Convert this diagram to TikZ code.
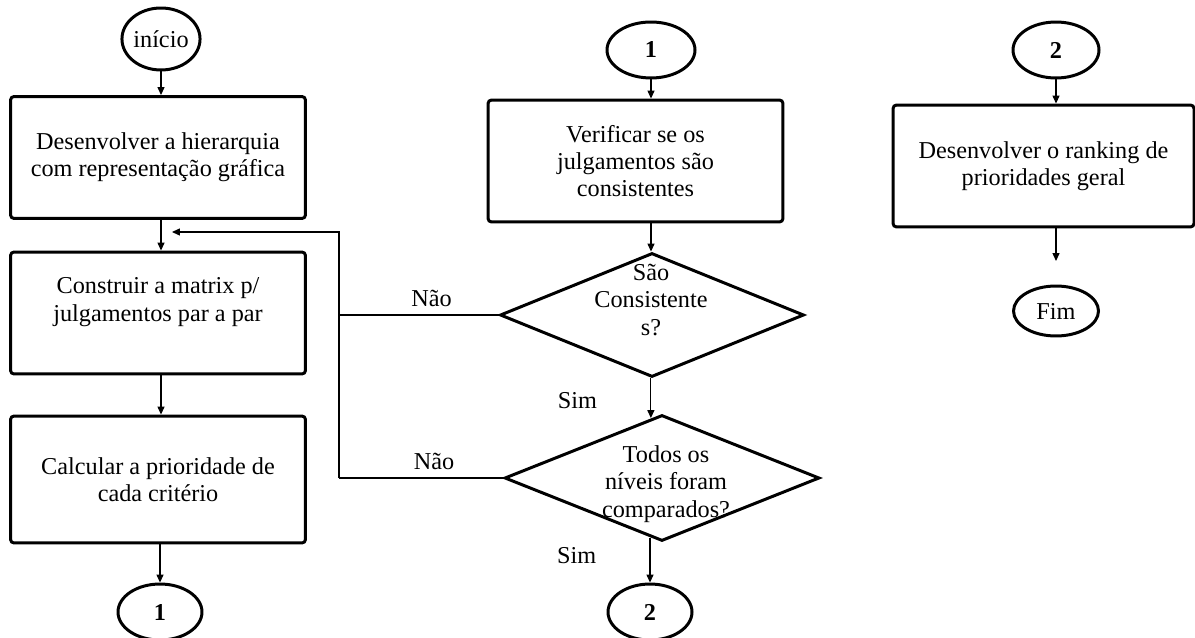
\documentclass[tikz,border=0pt]{standalone}
\usepackage{fontspec}
\setmainfont{Liberation Serif}
\usetikzlibrary{shapes.geometric,arrows.meta,calc}

\tikzset{
  passo/.style={draw,line width=1.7pt,rounded corners=2pt,minimum width=5.9cm,minimum height=2.44cm,align=center,inner sep=0pt},
  terminal/.style={draw,ellipse,line width=1.7pt,inner sep=0pt},
  decisao/.style={draw,diamond,line width=1.7pt,inner sep=0pt},
  seta/.style={line width=0.6pt,-{Triangle[length=4.5pt,width=4pt]}},
  linha/.style={line width=0.6pt},
}

\begin{document}
\begin{tikzpicture}[x=0.02cm,y=-0.02cm,font=\fontsize{13.8}{15.6}\selectfont]
   \useasboundingbox (0,0) rectangle (1195,638);

   %LEFT COLUMN
   \node[terminal,minimum width=1.56cm,minimum height=1.24cm] (inicio) at (161,39) {início};
   \node[passo] (desenv) at (158,157.5) {Desenvolver a hierarquia\\com representação gráfica};
   \node[passo] (matriz) at (158,313) {Construir a matrix p/\\julgamentos par a par\\ };
   \node[passo,minimum height=2.54cm] (calc) at (158,479.5) {Calcular a prioridade de\\cada critério};
   \node[terminal,minimum width=1.68cm,minimum height=1.12cm] (umA) at (160,612) {\textbf{1}};

   \draw[seta] (inicio.south) -- (inicio.south |- desenv.north);
   \draw[seta] (desenv.south -| inicio.south) -- (inicio.south |- matriz.north);
   \draw[seta] (matriz.south -| inicio.south) -- (inicio.south |- calc.north);
   \draw[seta] (calc.south -| umA.north) -- (umA.north);

   %MIDDLE COLUMN
   \node[terminal,minimum width=1.76cm,minimum height=1.12cm] (umB) at (651,50) {\textbf{1}};
   \node[passo] (verif) at (635.5,161) {Verificar se os\\julgamentos são\\consistentes};
   \node[decisao,minimum width=6.08cm,minimum height=2.48cm] (cons) at (652,315) {};
   \node[align=center] (consT) at (651,300) {São\\Consistente\\s?};
   \node[decisao,minimum width=6.3cm,minimum height=2.52cm] (todos) at (662,478) {};
   \node[align=center] (todosT) at (666,484) {Todos os\\níveis foram\\comparados?};
   \node[terminal,minimum width=1.68cm,minimum height=1.12cm] (doisA) at (650,612) {\textbf{2}};

   \coordinate (todosIn) at ($(todos.north)!0.07!(todos.west)$);
   \coordinate (todosOut) at ($(todos.south)!0.07!(todos.west)$);

   \draw[seta] (umB.south) -- (umB.south |- verif.north);
   \draw[seta] (verif.south -| umB.south) -- (umB.south |- cons.north);
   \draw[seta] (cons.south -| todosIn) -- (todosIn) node[pos=0.55,left=27pt] {Sim};
   \draw[seta] (todosOut -| doisA.north) -- (doisA.north) node[pos=0.4,left=27pt] {Sim};

   %RETURN LINE
   \coordinate (volta1) at (339,315);
   \coordinate (volta2) at (339,478);
   \coordinate (voltaFim) at (172,232);
   \draw[linha] (cons.west) -- (volta1) node[pos=0.42,above=1pt] {Não};
   \draw[linha] (todos.west) -- (volta2) node[pos=0.42,above=1pt] {Não};
   \draw[seta] (volta2) |- (voltaFim);

   %RIGHT COLUMN
   \node[terminal,minimum width=1.72cm,minimum height=1.12cm] (doisB) at (1056,50) {\textbf{2}};
   \node[passo,minimum width=6.02cm] (ranking) at (1043.5,166) {Desenvolver o ranking de\\prioridades geral};
   \node[terminal,minimum width=1.7cm,minimum height=1cm] (fim) at (1056,311) {Fim};
   \coordinate (fimSeta) at (1056,261);

   \draw[seta] (doisB.south) -- (doisB.south |- ranking.north);
   \draw[seta] (ranking.south -| doisB.south) -- (fimSeta);
\end{tikzpicture}
\end{document}
